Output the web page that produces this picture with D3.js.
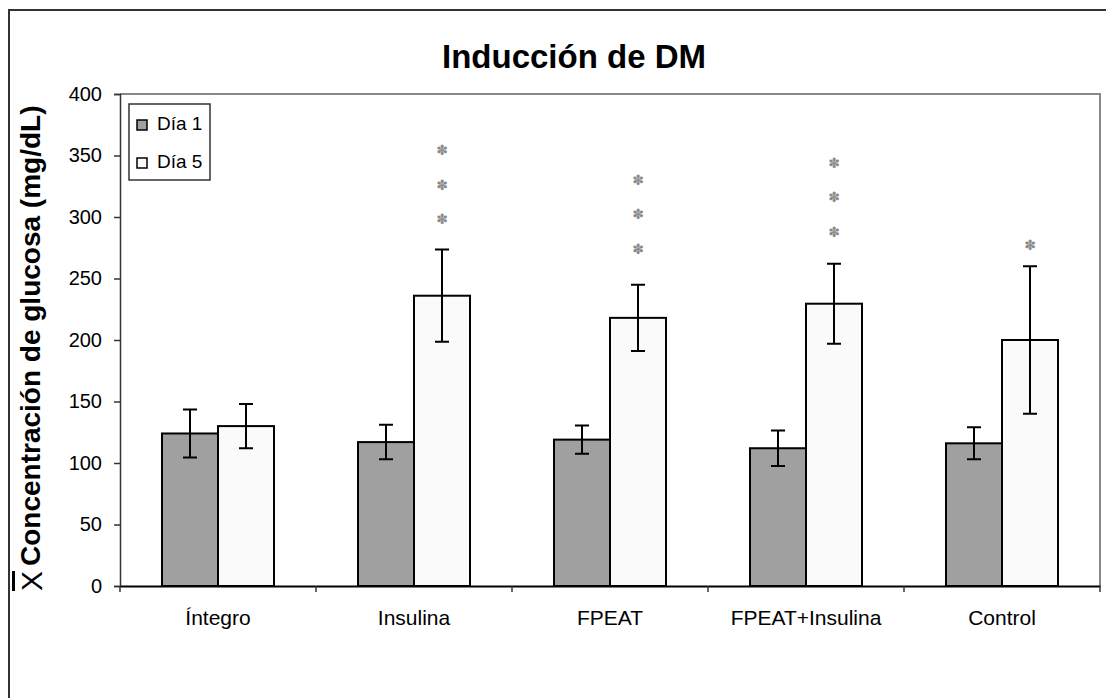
<!DOCTYPE html>
<html>
<head>
<meta charset="utf-8">
<script src="https://cdn.jsdelivr.net/npm/d3@7/dist/d3.min.js"></script>
<style>
  html, body { margin: 0; padding: 0; background: #fff; }
  svg { display: block; font-family: 'Liberation Sans', Arial, sans-serif; }
</style>
</head>
<body>
<svg id="chart" width="1106" height="698"></svg>
<script>
'use strict';

var categories = ['Íntegro', 'Insulina', 'FPEAT', 'FPEAT+Insulina', 'Control'];
var seriesNames = ['Día 1', 'Día 5'];
var dia1 = [124, 117, 119, 112, 116];
var dia1Err = [19.5, 14, 11.5, 14.5, 13];
var dia5 = [130, 236, 218, 229.5, 200];
var dia5Err = [18, 37.5, 27, 32.5, 60];
// significance marks above the Día 5 bars
var starCounts = [0, 3, 3, 3, 1];
var starBase = [0, 298, 274, 288, 277];
var yTicks = [0, 50, 100, 150, 200, 250, 300, 350, 400];

var svg = d3.select('#chart');

var margin = { left: 120, top: 94, right: 1100, bottom: 586 };
var fills = ['#a0a0a0', '#fafafa'];

// outer chart frame (only top and left edges are visible)
svg.append('path')
  .attr('d', 'M9,700 V10 H1110')
  .attr('fill', 'none')
  .attr('stroke', '#333')
  .attr('stroke-width', 2);

var x0 = d3.scaleBand()
  .domain(categories)
  .range([margin.left, margin.right])
  .paddingInner(0)
  .paddingOuter(0);

// gap width 150% -> each bar is bandwidth / 3.5
var barW = x0.bandwidth() / 3.5;

var y = d3.scaleLinear()
  .domain([0, 400])
  .range([margin.bottom, margin.top]);

// plot area frame (top and right, gray)
svg.append('path')
  .attr('d', 'M' + margin.left + ',' + margin.top + ' H' + margin.right + ' V' + margin.bottom)
  .attr('fill', 'none')
  .attr('stroke', '#888')
  .attr('stroke-width', 2);

var rows = categories.map(function(c, i) {
  return {
    cat: c,
    vals: [
      { s: 0, v: dia1[i], e: dia1Err[i] },
      { s: 1, v: dia5[i], e: dia5Err[i] }
    ],
    stars: starCounts[i],
    starBase: starBase[i]
  };
});

var groups = svg.append('g').selectAll('g.group')
  .data(rows)
  .enter()
  .append('g')
  .classed('group', true);

var barX = function(cat, s) {
  return x0(cat) + barW * 0.75 + s * barW;
};

groups.selectAll('rect')
  .data(function(d) {
    return d.vals.map(function(v) { v.cat = d.cat; return v; });
  })
  .enter()
  .append('rect')
  .attr('x', function(d) { return barX(d.cat, d.s); })
  .attr('y', function(d) { return y(d.v); })
  .attr('width', barW)
  .attr('height', function(d) { return y(0) - y(d.v); })
  .attr('fill', function(d) { return fills[d.s]; })
  .attr('stroke', '#000')
  .attr('stroke-width', 2);

// error bars
var capW = 7;
groups.selectAll('path.err')
  .data(function(d) { return d.vals; })
  .enter()
  .append('path')
  .classed('err', true)
  .attr('d', function(d) {
    var cx = barX(d.cat, d.s) + barW / 2;
    var t = y(d.v + d.e);
    var b = y(d.v - d.e);
    return 'M' + (cx - capW) + ',' + t + ' H' + (cx + capW) +
      ' M' + cx + ',' + t + ' V' + b +
      ' M' + (cx - capW) + ',' + b + ' H' + (cx + capW);
  })
  .attr('fill', 'none')
  .attr('stroke', '#000')
  .attr('stroke-width', 2);

// asterisks
groups.each(function(d) {
  var g = d3.select(this);
  var cx = barX(d.cat, 1) + barW / 2;
  d3.range(d.stars).forEach(function(k) {
    g.append('text')
      .attr('x', cx)
      .attr('y', y(d.starBase + k * 28))
      .attr('dy', '0.35em')
      .attr('text-anchor', 'middle')
      .style('font-family', 'DejaVu Sans')
      .style('font-size', '14px')
      .style('fill', '#8a8a8a')
      .text('\u273D');
  });
});

// y axis
var yAxis = svg.append('g')
  .attr('transform', 'translate(' + margin.left + ',0)')
  .call(d3.axisLeft(y).tickValues(yTicks).tickSize(6).tickPadding(12));
yAxis.select('.domain').attr('stroke', '#333').attr('stroke-width', 1.5);
yAxis.selectAll('.tick line').attr('stroke', '#333').attr('stroke-width', 1.5);
yAxis.selectAll('.tick text')
  .style('font-size', '20px')
  .style('font-family', "'Liberation Sans', Arial, sans-serif")
  .attr('fill', '#000');

// x axis
var xAxis = svg.append('g')
  .attr('transform', 'translate(0,' + margin.bottom + ')')
  .call(d3.axisBottom(x0).tickSize(0).tickPadding(24));
xAxis.select('.domain').attr('stroke', '#000').attr('stroke-width', 2);
xAxis.selectAll('.tick text')
  .style('font-size', '21px')
  .style('font-family', "'Liberation Sans', Arial, sans-serif")
  .attr('fill', '#000');

// category separator ticks
var bounds = categories.map(function(c) { return x0(c); }).concat([margin.right]);
svg.append('g').selectAll('line')
  .data(bounds)
  .enter()
  .append('line')
  .attr('x1', function(d) { return d; })
  .attr('x2', function(d) { return d; })
  .attr('y1', margin.bottom)
  .attr('y2', margin.bottom + 6)
  .attr('stroke', '#333')
  .attr('stroke-width', 1.5);

// title
svg.append('text')
  .attr('x', 574)
  .attr('y', 68)
  .attr('text-anchor', 'middle')
  .style('font-size', '33px')
  .style('font-weight', 'bold')
  .text('Inducción de DM');

// y label: mean symbol + label
svg.append('text')
  .attr('transform', 'translate(42,591) rotate(-90)')
  .style('font-size', '30px')
  .style('text-decoration', 'overline')
  .text('X');
svg.append('text')
  .attr('transform', 'translate(40,566) rotate(-90)')
  .style('font-size', '28px')
  .style('font-weight', 'bold')
  .text('Concentración de glucosa (mg/dL)');

// legend
var legend = svg.append('g')
  .attr('transform', 'translate(129,104)');
legend.append('rect')
  .attr('width', 81)
  .attr('height', 76)
  .attr('fill', '#fff')
  .attr('stroke', '#333')
  .attr('stroke-width', 1.5);
var items = legend.selectAll('g.item')
  .data(seriesNames)
  .enter()
  .append('g')
  .classed('item', true)
  .attr('transform', function(d, i) { return 'translate(8,' + (26 + i * 38) + ')'; });
items.append('rect')
  .attr('x', 0)
  .attr('y', -10)
  .attr('width', 10)
  .attr('height', 10)
  .attr('fill', function(d, i) { return fills[i]; })
  .attr('stroke', '#000')
  .attr('stroke-width', 1.5);
items.append('text')
  .attr('x', 20)
  .attr('y', 0)
  .style('font-size', '19px')
  .text(function(d) { return d; });
</script>
</body>
</html>
